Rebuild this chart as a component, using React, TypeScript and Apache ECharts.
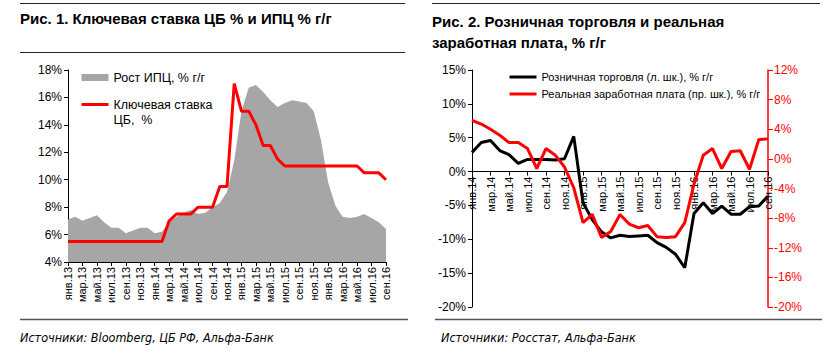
import React, { useEffect, useRef } from "react";
import * as echarts from "echarts";

const MONTHS = ["янв", "фев", "мар", "апр", "май", "июн", "июл", "авг", "сен", "окт", "ноя", "дек"];
function monthLabels(startYear: number, count: number): string[] {
  const out: string[] = [];
  for (let i = 0; i < count; i++) {
    out.push(MONTHS[i % 12] + "." + (startYear + Math.floor(i / 12)));
  }
  return out;
}

// Fig. 1: Jan 2013 – Sep 2016
const leftCategories = monthLabels(13, 45);
const cpi = [
  7.1, 7.3, 7.0, 7.2, 7.4, 6.9, 6.5, 6.5, 6.1, 6.3, 6.5, 6.5,
  6.1, 6.2, 6.9, 7.3, 7.6, 7.8, 7.5, 7.6, 8.0, 8.3, 9.1, 11.4,
  15.0, 16.7, 16.9, 16.4, 15.8, 15.3, 15.6, 15.8, 15.7, 15.6, 15.0, 12.9,
  9.8, 8.1, 7.3, 7.2, 7.3, 7.5, 7.2, 6.9, 6.4,
];
const keyRate = [
  5.5, 5.5, 5.5, 5.5, 5.5, 5.5, 5.5, 5.5, 5.5, 5.5, 5.5, 5.5,
  5.5, 5.5, 7.0, 7.5, 7.5, 7.5, 8.0, 8.0, 8.0, 9.5, 9.5, 17.0,
  15.0, 15.0, 14.0, 12.5, 12.5, 11.5, 11.0, 11.0, 11.0, 11.0, 11.0, 11.0,
  11.0, 11.0, 11.0, 11.0, 11.0, 10.5, 10.5, 10.5, 10.0,
];

// Fig. 2: Jan 2014 – Sep 2016
const rightCategories = monthLabels(14, 33);
const retail = [
  2.8, 4.3, 4.6, 3.1, 2.5, 1.2, 1.8, 1.8, 1.8, 1.7, 1.9, 5.2,
  -4.6, -7.1, -8.9, -9.8, -9.4, -9.6, -9.5, -9.4, -10.5, -11.2, -12.2, -14.2,
  -6.2, -4.6, -6.2, -5.1, -6.3, -6.3, -5.2, -5.1, -3.6,
];
const wages = [
  5.2, 4.7, 4.0, 3.2, 2.2, 2.2, 1.4, -1.3, 1.4, 0.5, -1.1, -3.9,
  -8.6, -7.5, -10.6, -9.8, -7.5, -8.8, -9.3, -9.0, -10.5, -10.6, -10.5, -8.6,
  -3.4, 0.5, 1.4, -1.3, 1.0, 1.1, -1.4, 2.6, 2.7,
];

const LEFT_MIN = -20;
const LEFT_MAX = 15;

const NAME_CPI = "Рост ИПЦ, % г/г";
const NAME_RATE = "Ключевая ставка\nЦБ,  %";
const NAME_RETAIL = "Розничная торговля (л. шк.), % г/г";
const NAME_WAGES = "Реальная заработная плата (пр. шк.), % г/г";

const FONT = "'Liberation Sans', Arial, sans-serif";
const NARROW = "'Liberation Sans Narrow', 'DejaVu Sans Condensed', 'Liberation Sans', sans-serif";
const RED = "#ff0000";
const GRAY = "#a6a6a6";

// right grid geometry
const G2_TOP = 70;
const G2_BOTTOM = 49;
const G2_HEIGHT = 356 - G2_TOP - G2_BOTTOM;

export default function App() {
  const ref = useRef<HTMLDivElement>(null);
  useEffect(() => {
    if (!ref.current) return;
    const chart = echarts.init(ref.current, undefined, { renderer: "svg" });
    // distance from grid bottom to the zero line of the left value axis
    const zeroOffset = (G2_HEIGHT * (0 - LEFT_MIN)) / (LEFT_MAX - LEFT_MIN);
    const option: any = {
      animation: false,
      backgroundColor: "#fff",
      textStyle: { fontFamily: FONT },
      title: [
        {
          text: "Рис. 1. Ключевая ставка ЦБ % и ИПЦ % г/г",
          left: 20,
          top: 11,
          padding: 0,
          textStyle: { fontSize: 15, fontWeight: "bold", color: "#000", fontFamily: FONT },
        },
        {
          text: "Рис. 2. Розничная торговля и реальная\nзаработная плата, % г/г",
          left: 432,
          top: 11,
          padding: 0,
          textStyle: { fontSize: 15, fontWeight: "bold", color: "#000", fontFamily: FONT, lineHeight: 21 },
        },
      ],
      legend: [
        {
          orient: "vertical",
          left: 80,
          top: 70,
          padding: 0,
          itemWidth: 27,
          itemHeight: 7,
          itemGap: -3,
          selectedMode: false,
          lineStyle: { width: 3 },
          formatter: (name: string) => (name === NAME_RATE ? "\n" + name : name),
          textStyle: { fontSize: 12.5, color: "#000", fontFamily: FONT, lineHeight: 15 },
          data: [
            { name: NAME_CPI, icon: "rect" },
            { name: NAME_RATE, itemStyle: { opacity: 0 } },
          ],
        },
        {
          orient: "vertical",
          left: 508,
          top: 70,
          padding: 0,
          itemWidth: 27,
          itemHeight: 3,
          itemGap: 3,
          selectedMode: false,
          lineStyle: { width: 3 },
          itemStyle: { opacity: 0 },
          textStyle: { fontSize: 11, color: "#000", fontFamily: FONT, lineHeight: 14 },
          data: [NAME_RETAIL, NAME_WAGES],
        },
      ],
      grid: [
        { left: 68, right: 450, top: 70, bottom: 94 },
        { left: 472, right: 68, top: G2_TOP, bottom: G2_BOTTOM },
      ],
      xAxis: [
        {
          type: "category",
          gridIndex: 0,
          data: leftCategories,
          boundaryGap: false,
          axisLine: { lineStyle: { color: "#000", width: 1 } },
          axisTick: { interval: 1, length: 4, lineStyle: { color: "#000" } },
          axisLabel: { interval: 1, rotate: 90, fontSize: 11, color: "#000", margin: 5, fontFamily: FONT },
          splitLine: { show: false },
        },
        {
          type: "category",
          gridIndex: 1,
          data: rightCategories,
          boundaryGap: false,
          position: "bottom",
          offset: -zeroOffset,
          axisLine: { onZero: false, lineStyle: { color: "#000", width: 1 } },
          axisTick: { interval: 1, length: 4, lineStyle: { color: "#000" } },
          axisLabel: { interval: 1, rotate: 90, fontSize: 11, color: "#000", margin: 5, fontFamily: FONT },
          splitLine: { show: false },
        },
      ],
      yAxis: [
        {
          type: "value",
          gridIndex: 0,
          min: 4,
          max: 18,
          interval: 2,
          axisLine: { show: true, lineStyle: { color: "#000", width: 1 } },
          axisTick: { show: true, length: 4, lineStyle: { color: "#000" } },
          axisLabel: { formatter: "{value}%", fontSize: 12, color: "#000", margin: 6, fontFamily: FONT },
          splitLine: { show: false },
        },
        {
          type: "value",
          gridIndex: 1,
          min: LEFT_MIN,
          max: LEFT_MAX,
          interval: 5,
          axisLine: { show: true, onZero: false, lineStyle: { color: "#000", width: 1 } },
          axisTick: { show: true, length: 4, lineStyle: { color: "#000" } },
          axisLabel: { formatter: "{value}%", fontSize: 12, color: "#000", margin: 6, fontFamily: FONT },
          splitLine: { show: false },
        },
        {
          type: "value",
          gridIndex: 1,
          position: "right",
          min: -20,
          max: 12,
          interval: 4,
          axisLine: { show: true, onZero: false, lineStyle: { color: RED, width: 1.5 } },
          axisTick: { show: true, length: 5, lineStyle: { color: RED } },
          axisLabel: { formatter: "{value}%", fontSize: 12, color: RED, margin: 6, fontFamily: FONT },
          splitLine: { show: false },
        },
      ],
      series: [
        {
          name: NAME_CPI,
          type: "line",
          xAxisIndex: 0,
          yAxisIndex: 0,
          data: cpi,
          symbol: "none",
          color: GRAY,
          lineStyle: { width: 0, color: GRAY },
          areaStyle: { color: GRAY, opacity: 1 },
          z: 1,
        },
        {
          name: NAME_RATE,
          type: "line",
          xAxisIndex: 0,
          yAxisIndex: 0,
          data: keyRate,
          symbol: "none",
          color: RED,
          lineStyle: { width: 3, color: RED },
          z: 3,
        },
        {
          name: NAME_RETAIL,
          type: "line",
          xAxisIndex: 1,
          yAxisIndex: 1,
          data: retail,
          symbol: "none",
          color: "#000",
          lineStyle: { width: 3, color: "#000" },
          z: 2,
        },
        {
          name: NAME_WAGES,
          type: "line",
          xAxisIndex: 1,
          yAxisIndex: 2,
          data: wages,
          symbol: "none",
          color: RED,
          lineStyle: { width: 3, color: RED },
          z: 3,
        },
      ],
      graphic: [
        { type: "line", shape: { x1: 20, y1: 3.5, x2: 405, y2: 3.5 }, style: { stroke: "#222", lineWidth: 1 } },
        { type: "line", shape: { x1: 20, y1: 52.5, x2: 405, y2: 52.5 }, style: { stroke: "#222", lineWidth: 1 } },
        { type: "line", shape: { x1: 432, y1: 3.5, x2: 820, y2: 3.5 }, style: { stroke: "#222", lineWidth: 1 } },
        { type: "line", shape: { x1: 20, y1: 319.5, x2: 408, y2: 319.5 }, style: { stroke: "#555", lineWidth: 1.5 } },
        { type: "line", shape: { x1: 435, y1: 319.5, x2: 822, y2: 319.5 }, style: { stroke: "#555", lineWidth: 1.5 } },
        {
          type: "text",
          x: 20,
          y: 337,
          style: {
            text: "Источники: Bloomberg, ЦБ РФ, Альфа-Банк",
            fontSize: 12.5,
            fontStyle: "italic",
            fontFamily: NARROW,
            fill: "#000",
            verticalAlign: "middle",
          },
        },
        {
          type: "text",
          x: 441,
          y: 337,
          style: {
            text: "Источники: Росстат, Альфа-Банк",
            fontSize: 12.5,
            fontStyle: "italic",
            fontFamily: NARROW,
            fill: "#000",
            verticalAlign: "middle",
          },
        },
      ],
    };
    chart.setOption(option);
    return () => chart.dispose();
  }, []);
  return (
    <div
      ref={ref}
      style={{ position: "absolute", left: 0, top: 0, width: 836, height: 356, background: "#fff" }}
    />
  );
}
